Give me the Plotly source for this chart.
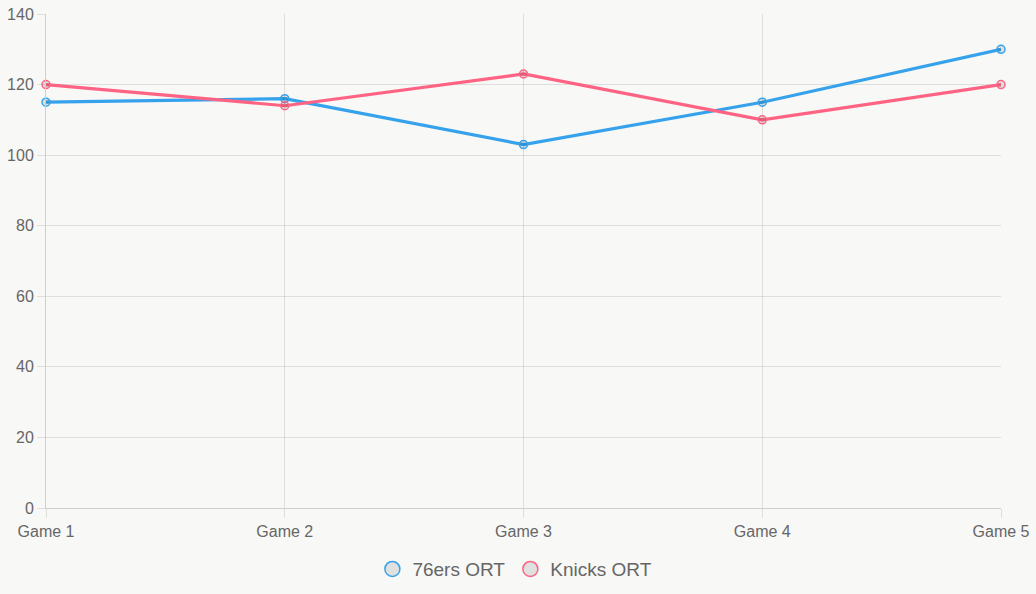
import plotly.graph_objects as go

games = ["Game 1", "Game 2", "Game 3", "Game 4", "Game 5"]
sixers_ort = [115, 116, 103, 115, 130]
knicks_ort = [120, 114, 123, 110, 120]
y_ticks = [0, 20, 40, 60, 80, 100, 120, 140]

BLUE = "#36A2EB"
PINK = "#FF6384"
GRID = "rgba(0,0,0,0.1)"
FONT = "Liberation Sans, Arial, sans-serif"

idx = list(range(len(games)))
fig = go.Figure()
for name, vals, col in [("76ers ORT", sixers_ort, BLUE), ("Knicks ORT", knicks_ort, PINK)]:
    fig.add_trace(go.Scatter(
        x=idx, y=vals, mode="lines+markers", name=name, showlegend=False,
        line=dict(color=col, width=3.2),
        marker=dict(size=8, color="rgba(0,0,0,0.1)", line=dict(color=col, width=1.5)),
        cliponaxis=False,
    ))
for name, col in [("76ers ORT", BLUE), ("Knicks ORT", PINK)]:
    fig.add_trace(go.Scatter(
        x=[None], y=[None], mode="markers", name=name,
        marker=dict(size=15, color="#e0e0e0", line=dict(color=col, width=1.5)),
    ))

fig.update_layout(
    width=1036, height=594,
    margin=dict(l=46, r=35, t=14, b=86),
    paper_bgcolor="#f8f8f6", plot_bgcolor="#f8f8f6",
    font=dict(family=FONT, color="#666", size=16),
    showlegend=True,
    legend=dict(orientation="h", xref="container", yref="container",
                x=0.497, xanchor="center", y=0.042, yanchor="middle",
                font=dict(size=19, color="#666"), itemwidth=30,
                bgcolor="rgba(0,0,0,0)"),
    xaxis=dict(
        range=[0, 4], tickvals=idx, ticktext=games, automargin=False,
        showgrid=True, gridcolor=GRID, gridwidth=1,
        ticks="outside", ticklen=9, tickcolor=GRID,
        showline=True, linecolor="#cfcfcf", linewidth=1,
        zeroline=False, tickfont=dict(size=16, color="#666"),
    ),
    yaxis=dict(
        range=[0, 140], tickvals=y_ticks, automargin=False,
        showgrid=True, gridcolor=GRID, gridwidth=1,
        ticks="outside", ticklen=8, tickcolor=GRID,
        showline=True, linecolor="#cfcfcf", linewidth=1,
        zeroline=False, tickfont=dict(size=16, color="#666"),
    ),
)

fig.write_html("out.html")
